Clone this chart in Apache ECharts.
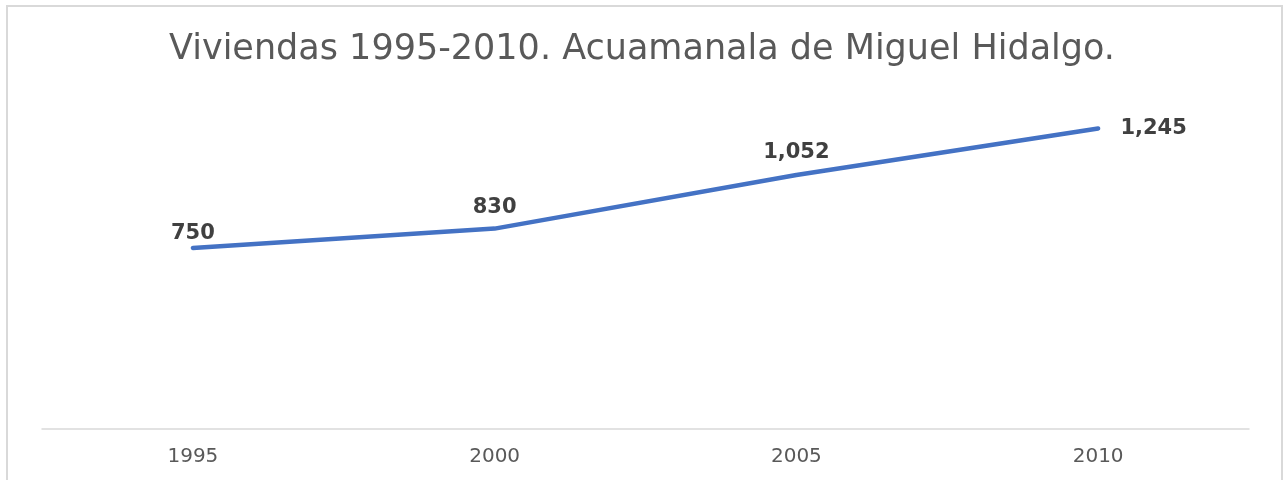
<!DOCTYPE html>
<html>
<head>
<meta charset="utf-8">
<script src="https://cdn.jsdelivr.net/npm/echarts@6/dist/echarts.min.js"></script>
<style>
  html, body { margin: 0; padding: 0; background: #fff; }
  #chart { width: 1284px; height: 480px; }
</style>
</head>
<body>
<div id="chart"></div>
<script>
const years = ["1995", "2000", "2005", "2010"]
const viviendas = [750, 830, 1052, 1245]
// label placement per point (Excel put the last one to the right)
const labelPos = ["top", "top", "top", "right"]
const labelGap = [4, 10, 12, 22]

const chart = echarts.init(document.querySelector("#chart"))

chart.setOption({
  animation: false,
  title: {
    text: "Viviendas 1995-2010. Acuamanala de Miguel Hidalgo.",
    left: "center",
    top: 27,
    textStyle: {
      fontFamily: "DejaVu Sans",
      fontSize: 35,
      fontWeight: "normal",
      color: "#595959"
    }
  },
  graphic: [{
    type: "rect",
    shape: { x: 7, y: 6, width: 1275, height: 520 },
    style: { fill: "none", stroke: "#d9d9d9", lineWidth: 2 },
    silent: true
  }],
  grid: { left: 42, right: 35, top: 91, bottom: 51 },
  xAxis: {
    type: "category",
    data: years,
    boundaryGap: true,
    axisLine: { lineStyle: { color: "#d9d9d9", width: 1.5 } },
    axisTick: { show: false },
    axisLabel: {
      color: "#595959",
      fontFamily: "DejaVu Sans",
      fontSize: 20,
      margin: 18
    }
  },
  yAxis: {
    type: "value",
    min: 0,
    max: 1400,
    show: false,
    splitLine: { show: false }
  },
  series: [{
    type: "line",
    data: viviendas.map((v, i) => ({
      value: v,
      label: { position: labelPos[i], distance: labelGap[i] }
    })),
    symbol: "circle",
    symbolSize: 0.5,
    itemStyle: { color: "#4472C4" },
    lineStyle: { color: "#4472C4", width: 4.5, cap: "round", join: "round" },
    label: {
      show: true,
      color: "#404040",
      fontFamily: "DejaVu Sans",
      fontWeight: "bold",
      fontSize: 21,
      formatter: p => p.value.toLocaleString("en-US")
    }
  }]
})
</script>
</body>
</html>
